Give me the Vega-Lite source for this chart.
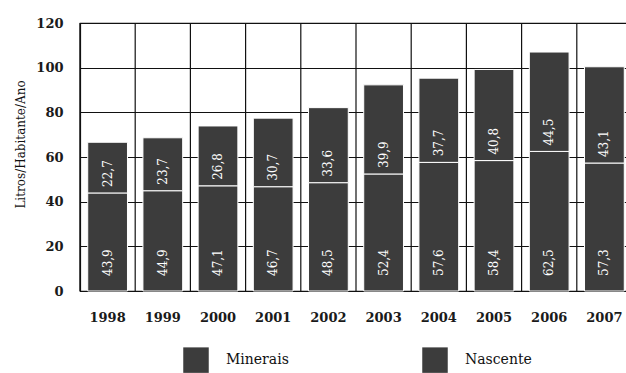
{
  "$schema": "https://vega.github.io/schema/vega-lite/v6.json",
  "autosize": {"type": "none"},
  "padding": {"left": 80, "top": 23, "right": 0, "bottom": 82},
  "width": 552,
  "height": 268,
  "config": {
    "locale": {"number": {"decimal": ",", "thousands": ".", "grouping": [3], "currency": ["", ""]}},
    "view": {"stroke": "#111", "strokeWidth": 1.2},
    "font": "DejaVu Serif"
  },
  "data": {
    "values": [
      {"ano": "1998", "tipo": "Minerais", "valor": 43.9},
      {"ano": "1998", "tipo": "Nascente", "valor": 22.7},
      {"ano": "1999", "tipo": "Minerais", "valor": 44.9},
      {"ano": "1999", "tipo": "Nascente", "valor": 23.7},
      {"ano": "2000", "tipo": "Minerais", "valor": 47.1},
      {"ano": "2000", "tipo": "Nascente", "valor": 26.8},
      {"ano": "2001", "tipo": "Minerais", "valor": 46.7},
      {"ano": "2001", "tipo": "Nascente", "valor": 30.7},
      {"ano": "2002", "tipo": "Minerais", "valor": 48.5},
      {"ano": "2002", "tipo": "Nascente", "valor": 33.6},
      {"ano": "2003", "tipo": "Minerais", "valor": 52.4},
      {"ano": "2003", "tipo": "Nascente", "valor": 39.9},
      {"ano": "2004", "tipo": "Minerais", "valor": 57.6},
      {"ano": "2004", "tipo": "Nascente", "valor": 37.7},
      {"ano": "2005", "tipo": "Minerais", "valor": 58.4},
      {"ano": "2005", "tipo": "Nascente", "valor": 40.8},
      {"ano": "2006", "tipo": "Minerais", "valor": 62.5},
      {"ano": "2006", "tipo": "Nascente", "valor": 44.5},
      {"ano": "2007", "tipo": "Minerais", "valor": 57.3},
      {"ano": "2007", "tipo": "Nascente", "valor": 43.1}
    ]
  },
  "transform": [
    {"stack": "valor", "groupby": ["ano"], "sort": [{"field": "tipo", "order": "ascending"}], "as": ["v0", "v1"]}
  ],
  "encoding": {
    "x": {
      "field": "ano", "type": "nominal",
      "scale": {"type": "band", "paddingInner": 0, "paddingOuter": 0},
      "axis": {"title": null, "labelAngle": 0, "ticks": false, "labelPadding": 20, "labelFont": "DejaVu Serif", "labelFontSize": 13, "labelFontWeight": "bold", "labelColor": "#1a1a1a", "domainColor": "#111", "domainWidth": 1.2, "grid": false}
    }
  },
  "layer": [
    {
      "transform": [{"filter": "datum.tipo === 'Minerais'"}],
      "mark": {"type": "rule", "color": "#111", "strokeWidth": 1.2},
      "encoding": {
        "x": {"field": "ano", "type": "nominal", "bandPosition": 0},
        "y": {"datum": 0, "type": "quantitative"},
        "y2": {"datum": 120}
      }
    },
    {
      "mark": {"type": "bar", "stroke": "white", "strokeWidth": 1, "width": {"band": 0.72}},
      "encoding": {
        "y": {
          "field": "v0", "type": "quantitative",
          "scale": {"domain": [0, 120], "nice": false},
          "axis": {"title": "Litros/Habitante/Ano", "values": [0, 20, 40, 60, 80, 100, 120], "ticks": false, "labelPadding": 17, "labelFont": "DejaVu Serif", "labelFontSize": 13, "labelFontWeight": "bold", "labelColor": "#1a1a1a", "domainColor": "#111", "domainWidth": 1.2, "grid": true, "gridColor": "#111", "gridWidth": 1.2, "gridOpacity": 1, "titleFont": "DejaVu Serif", "titleFontSize": 12, "titleFontWeight": "normal", "titleColor": "#111", "titleX": -60, "titleY": 121, "titleAngle": 270, "titleAlign": "center", "titleBaseline": "middle"}
        },
        "y2": {"field": "v1"},
        "color": {
          "field": "tipo", "type": "nominal",
          "scale": {"domain": ["Minerais", "Nascente"], "range": ["#3c3c3c", "#3c3c3c"]},
          "legend": {"title": null, "orient": "none", "legendX": 103, "legendY": 324, "direction": "horizontal", "symbolType": "square", "symbolSize": 650, "symbolStrokeWidth": 0, "symbolOpacity": 1, "labelFont": "DejaVu Serif", "labelFontSize": 14, "labelColor": "#111", "labelOffset": 17, "columnPadding": 133}
        }
      }
    },
    {
      "transform": [{"filter": "datum.tipo === 'Minerais'"}],
      "mark": {"type": "text", "angle": 270, "align": "left", "baseline": "middle", "dx": 15, "color": "white", "font": "DejaVu Serif", "fontSize": 12},
      "encoding": {
        "y": {"field": "v0", "type": "quantitative"},
        "text": {"field": "valor", "type": "quantitative", "format": ".1f"}
      }
    },
    {
      "transform": [{"filter": "datum.tipo === 'Nascente'"}],
      "mark": {"type": "text", "angle": 270, "align": "left", "baseline": "middle", "dx": 6, "color": "white", "font": "DejaVu Serif", "fontSize": 12},
      "encoding": {
        "y": {"field": "v0", "type": "quantitative"},
        "text": {"field": "valor", "type": "quantitative", "format": ".1f"}
      }
    }
  ]
}
